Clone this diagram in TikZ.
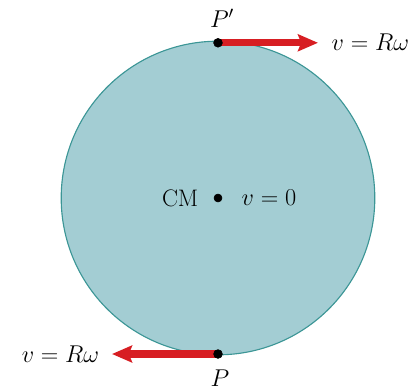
\documentclass[tikz,border=0pt]{standalone}
\usepackage{amsmath}
\usepackage{tikz}
\usetikzlibrary{arrows.meta}

\definecolor{discfill}{RGB}{163,205,211}
\definecolor{discedge}{RGB}{60,150,150}
\definecolor{velred}{RGB}{215,30,35}

\tikzset{
  velarrow/.style = {velred, line width=5pt, -{Stealth[length=0.5cm, width=0.42cm, inset=0.08cm]}},
  lbl/.style = {font=\fontsize{17}{20}\selectfont, inner sep=1pt}
}

\begin{document}
\begin{tikzpicture}
\useasboundingbox (-5.45, -4.8) rectangle (4.775, 4.95);
\filldraw[fill=discfill, draw=discedge, line width=0.8pt] (0, 0) circle(3.92);
\coordinate (Ptop) at (0, 3.88);
\coordinate (Pbot) at (0, -3.9);
\coordinate (tiptop) at (2.5, 3.88);
\coordinate (tipbot) at (-2.65, -3.9);
\draw[velarrow] (Ptop) -- (tiptop);
\draw[velarrow] (Pbot) -- (tipbot);
\filldraw[black] (Ptop) circle(0.11);
\filldraw[black] (Pbot) circle(0.11);
\filldraw[black] (0, 0) circle(0.1);
\node[lbl] (cm) at (0, 0) {};
\node[lbl, anchor=east] (cmlabel) at (-0.45, 0) {CM};
\node[lbl, anchor=west] (vzero) at (0.55, 0) {$v = 0$};
\node[lbl, anchor=west] (vtop) at (2.8, 3.9) {$v = R\omega$};
\node[lbl, anchor=east] (vbot) at (-2.93, -3.9) {$v = R\omega$};
\node[lbl] (ptoplabel) at (0.1, 4.5) {$P'$};
\node[lbl] (pbotlabel) at (0.05, -4.5) {$P$};
\end{tikzpicture}
\end{document}
